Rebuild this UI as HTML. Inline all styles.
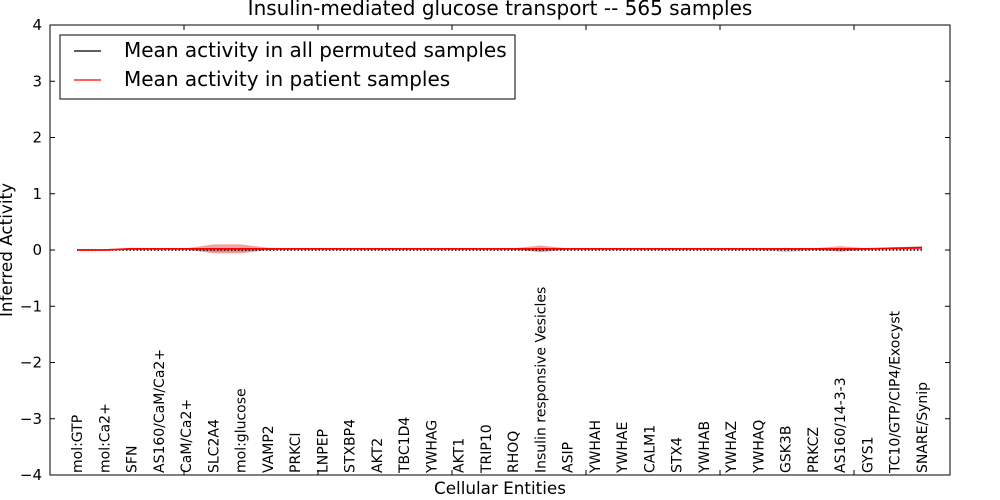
<!DOCTYPE html>
<html><head><meta charset="utf-8"><style>
html,body{margin:0;background:#fff;overflow:hidden;width:1000px;height:500px}
svg{display:block}
svg text{font-family:"DejaVu Sans","Liberation Sans",sans-serif}
</style></head><body>
<svg id="c" width="1000" height="500" xmlns="http://www.w3.org/2000/svg">
<rect width="1000" height="500" fill="#fff"/>
<g id="bands"></g><g id="lines"></g><g id="axes"></g>
</svg>
<script>
const categories=["mol:GTP","mol:Ca2+","SFN","AS160/CaM/Ca2+","CaM/Ca2+","SLC2A4","mol:glucose","VAMP2","PRKCI","LNPEP","STXBP4","AKT2","TBC1D4","YWHAG","AKT1","TRIP10","RHOQ","Insulin responsive Vesicles","ASIP","YWHAH","YWHAE","CALM1","STX4","YWHAB","YWHAZ","YWHAQ","GSK3B","PRKCZ","AS160/14-3-3","GYS1","TC10/GTP/CIP4/Exocyst","SNARE/Synip"];
const patientMean=[0,0,0.02,0.02,0.02,0.02,0.02,0.02,0.02,0.02,0.02,0.02,0.02,0.02,0.02,0.02,0.02,0.02,0.02,0.02,0.02,0.02,0.02,0.02,0.02,0.02,0.02,0.02,0.02,0.02,0.03,0.04];
const patientSd=[0,0,0.02,0.01,0.01,0.08,0.08,0.02,0.01,0.01,0.01,0.01,0.01,0.01,0.01,0.01,0.01,0.06,0.01,0.01,0.01,0.01,0.01,0.01,0.01,0.01,0.01,0.01,0.05,0.01,0.02,0.03];
const permMean=new Array(32).fill(0);
const permSd=[0,0,0,0,0,0.03,0.03,0,0,0,0,0,0,0,0,0,0,0.02,0,0,0,0,0,0,0,0,0.04,0,0.02,0,0,0];
const yTicks=[4,3,2,1,0,-1,-2,-3,-4];
const xTicks=[5,10,15,20,25,30];
</script>
<script>
const NS="http://www.w3.org/2000/svg";
const L=50,R=950,T=25,B=475;
const y=v=>250-v*56.25;
const xc=i=>77+i*(922-77)/(categories.length-1);
const xt=v=>50+v*26.8;
function mk(t,a,p){const e=document.createElementNS(NS,t);for(const k in a)e.setAttribute(k,a[k]);p.appendChild(e);return e;}
const bands=document.getElementById('bands'),lines=document.getElementById('lines'),axes=document.getElementById('axes');
function band(m,s,fill,op,name){let up=m.map((v,i)=>xc(i)+','+y(v+s[i]));let dn=m.map((v,i)=>xc(i)+','+y(v-s[i])).reverse();
const p=mk('polygon',{points:up.concat(dn).join(' '),fill:fill,'fill-opacity':op},bands);

}
band(permMean,permSd,'#999',0.45,'permuted-band');
band(patientMean,patientSd,'#e03030',0.45,'patient-band');
const lp=mk('polyline',{points:permMean.map((v,i)=>xc(i)+','+y(v)).join(' '),fill:'none',stroke:'#000','stroke-width':1.5,'stroke-dasharray':'1.5,2'},lines);


const lr=mk('polyline',{points:patientMean.map((v,i)=>xc(i)+','+y(v)).join(' '),fill:'none',stroke:'#ff0000','stroke-width':1.8},lines);


const fr=mk('rect',{x:L,y:T,width:R-L,height:B-T,fill:'none',stroke:'#000','stroke-width':1},axes);


yTicks.forEach(v=>{const yy=y(v);
mk('line',{x1:L,x2:L+5,y1:yy,y2:yy,stroke:'#000'},axes);mk('line',{x1:R-5,x2:R,y1:yy,y2:yy,stroke:'#000'},axes);
const t=mk('text',{x:L-8,y:yy+5,'text-anchor':'end','font-size':15},axes);t.textContent=v<0?'\u2212'+(-v):v;

});
xTicks.forEach(v=>{const xx=xt(v);mk('line',{x1:xx,x2:xx,y1:T,y2:T+5,stroke:'#000'},axes);mk('line',{x1:xx,x2:xx,y1:B-5,y2:B,stroke:'#000'},axes);});
categories.forEach((c,i)=>{const xx=xc(i)+5;const t=mk('text',{x:0,y:0,'font-size':14,transform:`translate(${xx},${B-2}) rotate(-90)`},axes);t.textContent=c;

});
const svg=document.getElementById('c');
function tx(s,a,name){const t=mk('text',a,svg);t.textContent=s;return t;}
tx('Insulin-mediated glucose transport -- 565 samples',{x:500,y:15,'text-anchor':'middle','font-size':20},'chart-title');
tx('Cellular Entities',{x:500,y:494,'text-anchor':'middle','font-size':16.8},'x-axis-title');
tx('Inferred Activity',{x:0,y:0,'text-anchor':'middle','font-size':16.8,transform:'translate(12,250) rotate(-90)'},'y-axis-title');
const lg=mk('g',{},svg);
mk('rect',{x:60,y:35,width:455,height:64,fill:'#fff',stroke:'#000'},lg);
mk('line',{x1:74,x2:101,y1:51,y2:51,stroke:'#000','stroke-width':1.3},lg);
mk('line',{x1:74,x2:101,y1:80,y2:80,stroke:'#f00','stroke-width':1.3},lg);
const a=mk('text',{x:124,y:57,'font-size':20},lg);a.textContent='Mean activity in all permuted samples';


const b=mk('text',{x:124,y:86,'font-size':20},lg);b.textContent='Mean activity in patient samples';


</script>
</body></html>
